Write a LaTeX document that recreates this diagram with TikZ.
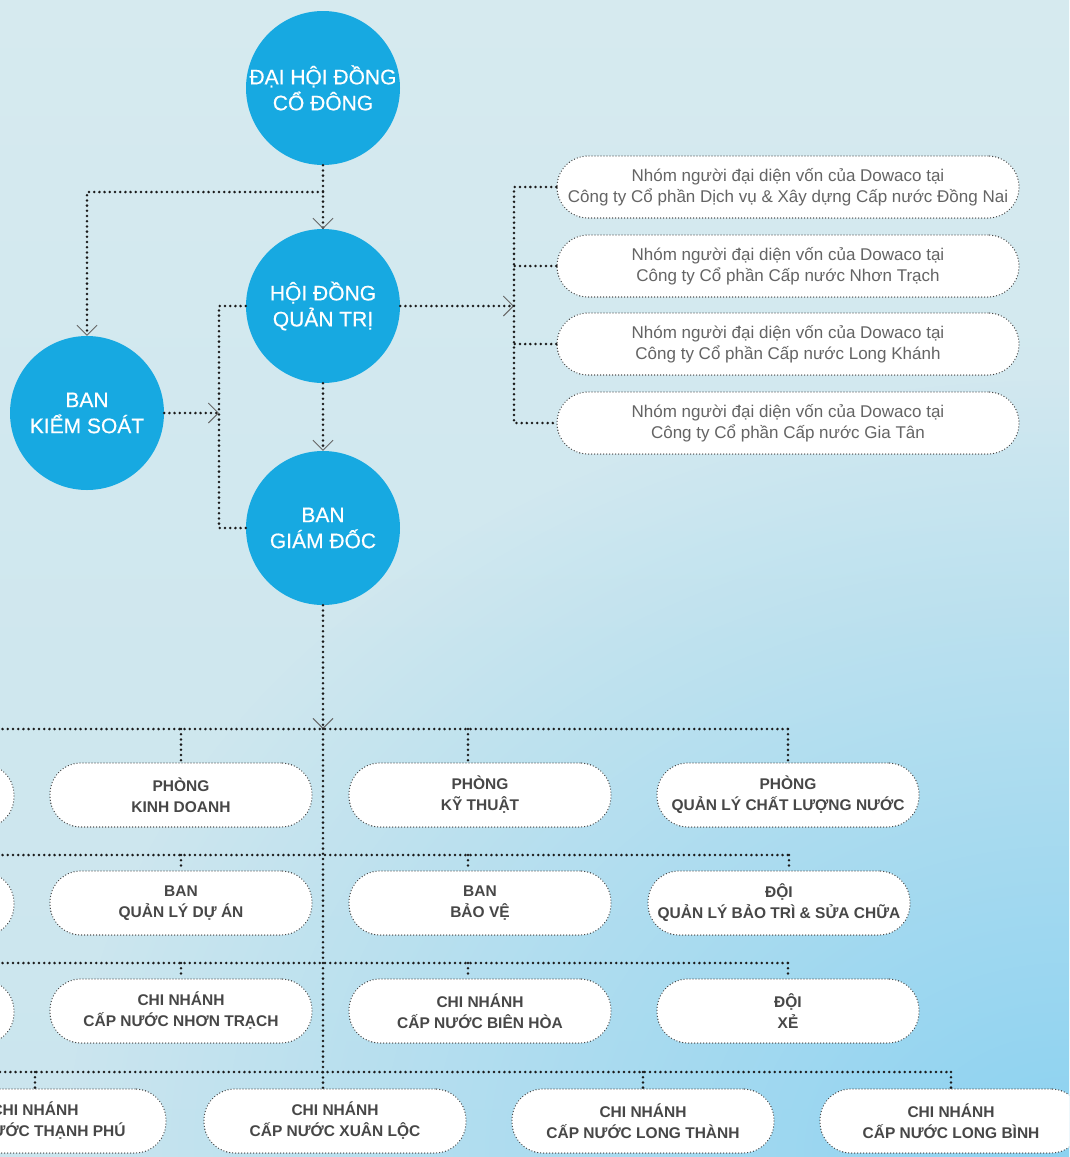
\documentclass[tikz,border=0pt]{standalone}
\usepackage{fontspec}
\setmainfont{Liberation Sans}
\newfontfamily\circfont{Liberation Sans}[FakeBold=0.45]
\usetikzlibrary{arrows.meta,fadings}
\definecolor{bgtop}{HTML}{D6EAEF}
\definecolor{bgbot}{HTML}{CAE5EE}
\definecolor{bgdeep}{HTML}{8CD2F1}
\definecolor{circ}{HTML}{17A9E1}
\definecolor{dotc}{HTML}{1A1A1A}
\definecolor{pilltxt}{HTML}{474747}
\definecolor{reptxt}{HTML}{646464}
\definecolor{pillbd}{HTML}{3A3A3A}
\tikzfading[name=radfade, inner color=transparent!0, outer color=transparent!100]
\begin{document}
\begin{tikzpicture}[x=1pt,y=-1pt,
  org/.style={circle, fill=circ, minimum size=154pt, inner sep=0pt, text=white, align=center,
    font=\circfont\fontsize{21}{26}\selectfont},
  unit/.style={rectangle, rounded corners=31pt, fill=white, draw=pillbd, line width=1.3pt,
    dash pattern=on 0pt off 3pt, line cap=round, minimum width=262pt, minimum height=64pt,
    inner sep=0pt, align=center, text=pilltxt, font=\bfseries\fontsize{15.5}{21}\selectfont},
  rep/.style={unit, minimum width=462pt, minimum height=62pt, text=reptxt,
    font=\fontsize{17}{21}\selectfont},
  conn/.style={draw=dotc, line width=2.8pt, line cap=round, dash pattern=on 0pt off 5.2pt},
  tip/.style={-{Straight Barb[length=10pt,width=20pt,line width=0.9pt,color=black!60]}}
]
\useasboundingbox (0,0) rectangle (1069,1157);
\clip (0,0) rectangle (1069,1157);
% background
\shade[top color=bgtop, bottom color=bgbot] (0,0) rectangle (1069,1157);
\fill[bgdeep, path fading=radfade] (1069,1157) ellipse (1000 and 780);

% top circles
\node[org] (dh)  at (323,88)  {ĐẠI HỘI ĐỒNG\\CỔ ĐÔNG};
\node[org] (hd)  at (323,306) {HỘI ĐỒNG\\QUẢN TRỊ};
\node[org] (bks) at (87,413)  {BAN\\KIỂM SOÁT};
\node[org] (bgd) at (323,528) {BAN\\GIÁM ĐỐC};

% representative groups
\node[rep] (r1) at (788,187) {Nhóm người đại diện vốn của Dowaco tại\\Công ty Cổ phần Dịch vụ \& Xây dựng Cấp nước Đồng Nai};
\node[rep] (r2) at (788,266) {Nhóm người đại diện vốn của Dowaco tại\\Công ty Cổ phần Cấp nước Nhơn Trạch};
\node[rep] (r3) at (788,344) {Nhóm người đại diện vốn của Dowaco tại\\Công ty Cổ phần Cấp nước Long Khánh};
\node[rep] (r4) at (788,423) {Nhóm người đại diện vốn của Dowaco tại\\Công ty Cổ phần Cấp nước Gia Tân};

% row 1
\node[unit] (ln1) at (-117,796) {};
\node[unit] (kd) at (181,795) {PHÒNG\\KINH DOANH};
\node[unit] (kt) at (480,795) {PHÒNG\\KỸ THUẬT};
\node[unit] (cl) at (788,795) {PHÒNG\\QUẢN LÝ CHẤT LƯỢNG NƯỚC};
% row 2
\node[unit] (ln2) at (-117,904) {};
\node[unit] (qd) at (181,903) {BAN\\QUẢN LÝ DỰ ÁN};
\node[unit] (bv) at (480,903) {BAN\\BẢO VỆ};
\node[unit] (bt) at (779,903) {ĐỘI\\QUẢN LÝ BẢO TRÌ \& SỬA CHỮA};
% row 3
\node[unit] (ln3) at (-117,1012) {};
\node[unit] (nt) at (181,1011) {CHI NHÁNH\\CẤP NƯỚC NHƠN TRẠCH};
\node[unit] (bh) at (480,1011) {CHI NHÁNH\\CẤP NƯỚC BIÊN HÒA};
\node[unit] (dx) at (788,1011) {ĐỘI\\XẺ};
% row 4
\node[unit] (tp) at (35,1121)  {CHI NHÁNH\\CẤP NƯỚC THẠNH PHÚ};
\node[unit] (xl) at (335,1121) {CHI NHÁNH\\CẤP NƯỚC XUÂN LỘC};
\node[unit] (lt) at (643,1121) {CHI NHÁNH\\CẤP NƯỚC LONG THÀNH};
\node[unit] (lb) at (951,1121) {CHI NHÁNH\\CẤP NƯỚC LONG BÌNH};

% coordinates
\coordinate (jA) at (323,192);
\coordinate (lx) at (219,0);
\coordinate (rx) at (514,0);
\coordinate (b1) at (323,729);
\coordinate (b2) at (323,855);
\coordinate (b3) at (323,963);
\coordinate (b4) at (323,1072);
\coordinate (b4L) at (-130,1072);
\coordinate (ktd) at ([xshift=-12pt]kt.north);
\coordinate (bvd) at ([xshift=-12pt]bv.north);
\coordinate (bhd) at ([xshift=-12pt]bh.north);
\coordinate (btd) at ([xshift=10pt]bt.north);

% top connectors
\draw[conn,tip] (dh) -- (hd);
\draw[conn,tip] (jA) -| (bks.north);
\draw[conn] (hd.west) -- (hd.west -| lx) |- (bgd.west);
\draw[conn,tip] (bks.east) -- (bks.east -| lx);
\draw[conn,tip] (hd.east) -- (hd.east -| rx);
\draw[conn] (r1.west) -- (r1.west -| rx) |- (r4.west);
\draw[conn] (r2.west) -- (r2.west -| rx);
\draw[conn] (r3.west) -- (r3.west -| rx);
\draw[conn,tip] (hd.south) -- (bgd.north);

% trunk
\draw[conn,tip] (bgd) -- (b1);
\draw[conn] (b1) -- (b1 |- xl.north);

% row 1 bus
\draw[conn] (ln1.north |- b1) -- (cl.north |- b1);
\draw[conn] (ln1.north |- b1) -- (ln1.north);
\draw[conn] (kd.north |- b1) -- (kd.north);
\draw[conn] (ktd |- b1) -- (ktd);
\draw[conn] (cl.north |- b1) -- (cl.north);
% row 2 bus
\draw[conn] (ln2.north |- b2) -- (btd |- b2);
\draw[conn] (ln2.north |- b2) -- (ln2.north);
\draw[conn] (qd.north |- b2) -- (qd.north);
\draw[conn] (bvd |- b2) -- (bvd);
\draw[conn] (btd |- b2) -- (btd);
% row 3 bus
\draw[conn] (ln3.north |- b3) -- (dx.north |- b3);
\draw[conn] (ln3.north |- b3) -- (ln3.north);
\draw[conn] (nt.north |- b3) -- (nt.north);
\draw[conn] (bhd |- b3) -- (bhd);
\draw[conn] (dx.north |- b3) -- (dx.north);
% row 4 bus
\draw[conn] (b4L) -- (lb.north |- b4);
\draw[conn] (tp.north |- b4) -- (tp.north);
\draw[conn] (lt.north |- b4) -- (lt.north);
\draw[conn] (lb.north |- b4) -- (lb.north);
\end{tikzpicture}
\end{document}
